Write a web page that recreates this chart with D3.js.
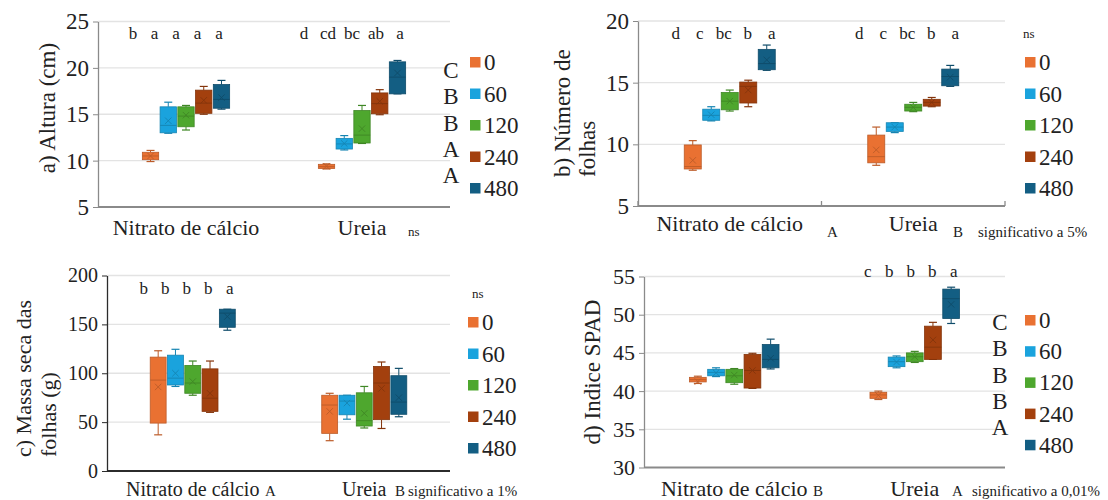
<!DOCTYPE html>
<html><head><meta charset="utf-8">
<script src="https://cdn.jsdelivr.net/npm/d3@7"></script>
<style>html,body{margin:0;padding:0;background:#fff}svg{display:block}</style>
</head><body><svg id="chart" width="1108" height="500"></svg>
<script>
// ---------- DATA ----------
const categories = ["Nitrato de cálcio", "Ureia"];
const doses = ["0", "60", "120", "240", "480"];
const doseColors = ["#E97132", "#1AA3DD", "#4EA72E", "#A3400E", "#135E83"];
// each entry: [min, q1, median, q3, max, mean]
const alturaNitrato = [[9.9,10.1,10.5,10.9,11.1,10.5],[12.95,13.0,13.8,15.8,16.3,14.3],[13.3,13.65,14.8,15.8,15.95,14.9],[15.0,15.1,16.2,17.6,18.0,16.5],[15.55,15.65,16.6,18.2,18.65,16.8]];
const alturaUreia = [[9.1,9.15,9.35,9.6,9.65,9.4],[11.15,11.25,11.8,12.4,12.7,11.85],[11.85,11.9,12.75,15.4,15.95,13.45],[14.95,15.05,16.15,17.3,17.65,16.4],[17.2,17.2,19.0,20.65,20.8,19.45]];
const folhasNitrato = [[7.9,8.0,8.2,9.95,10.3,8.7],[11.9,11.95,12.35,12.85,13.05,12.4],[12.7,12.8,13.5,14.2,14.4,13.5],[13.05,13.35,14.7,15.05,15.2,14.4],[16.0,16.05,16.55,17.7,18.05,16.85]];
const folhasUreia = [[8.3,8.5,9.0,10.75,11.4,9.55],[10.95,11.05,11.4,11.75,11.75,11.4],[12.65,12.7,13.0,13.25,13.4,13.0],[13.05,13.1,13.4,13.65,13.8,13.4],[14.7,14.75,15.5,16.1,16.4,15.45]];
const massaNitrato = [[37,49,93,116.5,123,86],[86.5,88,95,118.5,124.5,100],[77.5,79.5,90,108,112.5,91.5],[60,61,74.5,104.5,112.5,79.5],[144,147,161.5,165.5,165.5,158]];
const massaUreia = [[31,38.5,67.5,77.5,79.5,61],[53,57.5,71.5,77.5,77.5,69.5],[44,46,51.5,80,86.5,59],[43.5,52.5,90,107,111.5,84.5],[55.5,58,70.5,97.5,105,75]];
const spadNitrato = [[41.0,41.2,41.5,41.8,41.95,41.25],[41.9,42.0,42.45,42.85,43.05,42.4],[40.9,41.1,42.0,42.85,42.95,42.1],[40.35,40.4,42.7,44.8,44.95,42.7],[42.9,43.05,44.15,46.1,46.8,44.3]];
const spadUreia = [[38.9,39.05,39.5,39.85,40.0,39.45],[43.05,43.2,43.85,44.45,44.6,43.8],[43.75,43.85,44.5,45.0,45.2,44.5],[44.15,44.15,45.75,48.5,49.0,46.7],[48.85,49.5,52.1,53.35,53.6,51.35]];

const lettersA = [["b","a","a","a","a"], ["d","cd","bc","ab","a"]];
const lettersB = [["d","c","bc","b","a"], ["d","c","bc","b","a"]];
const lettersC = [["b","b","b","b","a"], []];
const lettersD = [[], ["c","b","b","b","a"]];
const sideLettersA = ["C","B","B","A","A"];
const sideLettersD = ["C","B","B","B","A"];
const ticksA = [5,10,15,20,25];
const ticksB = [5,10,15,20];
const ticksC = [0,50,100,150,200];
const ticksD = [30,35,40,45,50,55];

// ---------- DRAWING ----------
const FONT = "\"Liberation Serif\"";
const svg = d3.select("#chart").style("font-family", FONT);

function darker(c, k){ return d3.color(c).darker(k).formatHex(); }
function txt(sel){ return sel.style("font-family", FONT).attr("fill", "#222"); }

function drawPanel(p){
  const g = svg.append("g");
  const y = d3.scaleLinear().domain(p.yDomain).range([p.bottom, p.top]);
  const x0 = d3.scaleBand().domain(categories).range([p.left, p.right]);
  const x1 = d3.scaleBand().domain(doses).range([0, x0.bandwidth()]).paddingInner(0.08).paddingOuter(2.5);

  g.selectAll(".grid").data(p.ticks.slice(1)).join("line")
    .attr("x1", p.left).attr("x2", p.right)
    .attr("y1", d=>y(d)).attr("y2", d=>y(d))
    .attr("stroke", "#e3e3e3").attr("stroke-width", 1.3);

  const ay = g.append("g").attr("transform", `translate(${p.left},0)`)
    .call(d3.axisLeft(y).tickValues(p.ticks).tickSize(5).tickPadding(4).tickSizeOuter(0));
  ay.attr("font-family", null).attr("font-size", null);
  ay.select(".domain").attr("stroke", p.axisColor).attr("stroke-width", 1.3);
  ay.selectAll(".tick line").attr("stroke", p.axisColor);
  txt(ay.selectAll(".tick text")).attr("font-size", p.tickFont);

  g.append("line").attr("x1", p.left).attr("x2", p.right)
    .attr("y1", y(p.yDomain[0])).attr("y2", y(p.yDomain[0]))
    .attr("stroke", p.axisColor).attr("stroke-width", 2);
  if (p.catTicks){
    const bx = [p.left, x0(categories[1]), p.right];
    g.selectAll(".ct").data(bx).join("line")
      .attr("x1", d=>d).attr("x2", d=>d)
      .attr("y1", y(p.yDomain[0])).attr("y2", y(p.yDomain[0]) - 5)
      .attr("stroke", p.axisColor).attr("stroke-width", 1.3);
  }
  txt(g.selectAll(".cat").data(categories).join("text")
    .attr("x", d=>x0(d) + x0.bandwidth()/2)
    .attr("y", p.catY)
    .attr("text-anchor", "middle"))
    .attr("font-size", p.catFont)
    .text(d=>d);

  categories.forEach((cat, ci) => {
    const stats = p.data[ci];
    const bw = x1.bandwidth();
    stats.forEach((s, di) => {
      const col = doseColors[di];
      const dk = darker(col, 0.6);
      const cx = x0(cat) + x1(doses[di]) + bw/2;
      const bg = g.append("g");
      bg.append("line").attr("x1", cx).attr("x2", cx).attr("y1", y(s[0])).attr("y2", y(s[1])).attr("stroke", dk).attr("stroke-width", 1);
      bg.append("line").attr("x1", cx).attr("x2", cx).attr("y1", y(s[3])).attr("y2", y(s[4])).attr("stroke", dk).attr("stroke-width", 1);
      [s[0], s[4]].forEach(v => {
        bg.append("line").attr("x1", cx-4).attr("x2", cx+4).attr("y1", y(v)).attr("y2", y(v)).attr("stroke", dk).attr("stroke-width", 1.2);
      });
      bg.append("rect").attr("x", cx - bw/2).attr("width", bw)
        .attr("y", y(s[3])).attr("height", Math.max(1, y(s[1]) - y(s[3])))
        .attr("fill", col).attr("stroke", dk).attr("stroke-width", 0.8);
      bg.append("line").attr("x1", cx - bw/2).attr("x2", cx + bw/2).attr("y1", y(s[2])).attr("y2", y(s[2])).attr("stroke", dk).attr("stroke-width", 0.9);
      const m = 3.2, my = y(s[5]);
      bg.append("path").attr("d", `M${cx-m},${my-m}L${cx+m},${my+m}M${cx-m},${my+m}L${cx+m},${my-m}`)
        .attr("stroke", dk).attr("stroke-width", 0.9).attr("fill", "none");
    });
    const L = p.letters[ci];
    const sp = L.some(t => t.length > 1) ? 24 : 21.5;
    const gc = x0(cat) + x0.bandwidth()/2 + p.letterOffset;
    txt(g.selectAll(null).data(L).join("text")
      .attr("x", (d,i)=> gc + (i-2)*sp)
      .attr("y", p.letterY)
      .attr("text-anchor", "middle"))
      .attr("font-size", 17)
      .text(d=>d);
  });

  const yl = txt(g.append("text")
    .attr("transform", `translate(${p.ylabX},${p.ylabY}) rotate(-90)`)
    .attr("text-anchor", p.ylabAnchor))
    .attr("font-size", p.ylabFont);
  p.ylab.forEach((t, i) => {
    yl.append("tspan").attr("x", 0).attr("dy", i === 0 ? 0 : p.ylabLine).text(t);
  });

  const lg = g.append("g");
  doses.forEach((d, i) => {
    const by = p.legY + i * p.legStep;
    lg.append("rect").attr("x", p.legX).attr("y", by - 13).attr("width", 10.5).attr("height", 10.5).attr("fill", doseColors[i]);
    txt(lg.append("text").attr("x", p.legX + 14).attr("y", by)).attr("font-size", 23).text(d);
  });
  if (p.side){
    p.side.forEach((t, i) => {
      txt(lg.append("text").attr("x", p.sideX).attr("y", p.sideY + i*p.sideStep)
        .attr("text-anchor", "middle")).attr("font-size", 23).text(t);
    });
  }
  (p.notes || []).forEach(n => {
    txt(g.append("text").attr("x", n[0]).attr("y", n[1])).attr("font-size", n[3] || 15).text(n[2]);
  });
}

drawPanel({
  data: [alturaNitrato, alturaUreia], yDomain: [5,25], ticks: ticksA,
  left: 98, right: 450, top: 21.5, bottom: 207, axisColor: "#8a8a8a", tickFont: 23,
  catY: 235, catFont: 22, letters: lettersA, letterY: 39, letterOffset: -10,
  ylab: ["a) Altura  (cm)"], ylabX: 55, ylabY: 108, ylabAnchor: "middle", ylabFont: 23, ylabLine: 0,
  legX: 470, legY: 70, legStep: 31.5, side: sideLettersA, sideX: 451, sideY: 78, sideStep: 26.3,
  notes: [[408, 236, "ns", 13]]
});
drawPanel({
  data: [folhasNitrato, folhasUreia], yDomain: [5,20], ticks: ticksB,
  left: 638, right: 1005, top: 21, bottom: 206, axisColor: "#8a8a8a", tickFont: 23, catTicks: true,
  catY: 231, catFont: 22, letters: lettersB, letterY: 39, letterOffset: -6,
  ylab: ["b) Número de", "folhas"], ylabX: 570, ylabY: 177, ylabAnchor: "start", ylabFont: 23, ylabLine: 25,
  legX: 1025, legY: 70, legStep: 31.5,
  notes: [[1023, 38, "ns", 13], [827, 237, "A"], [953, 237, "B"], [978, 237, "significativo  a 5%"]]
});
drawPanel({
  data: [massaNitrato, massaUreia], yDomain: [0,200], ticks: ticksC,
  left: 107, right: 450, top: 275.5, bottom: 471, axisColor: "#2b2b2b", tickFont: 20,
  catY: 496, catFont: 20, letters: lettersC, letterY: 294, letterOffset: -6,
  ylab: ["c) Massa seca das", "folhas (g)"], ylabX: 31, ylabY: 457, ylabAnchor: "start", ylabFont: 22, ylabLine: 25,
  legX: 468, legY: 330, legStep: 31.5,
  notes: [[472, 298, "ns", 13], [265, 496, "A"], [395, 496, "B"], [408, 496, "significativo  a 1%"]]
});
drawPanel({
  data: [spadNitrato, spadUreia], yDomain: [30,55], ticks: ticksD,
  left: 644, right: 1005, top: 276.5, bottom: 467.5, axisColor: "#8a8a8a", tickFont: 22,
  catY: 496, catFont: 22, letters: lettersD, letterY: 277, letterOffset: -4,
  ylab: ["d) Indice SPAD"], ylabX: 600, ylabY: 372, ylabAnchor: "middle", ylabFont: 23, ylabLine: 0,
  legX: 1025, legY: 328, legStep: 31.2, side: sideLettersD, sideX: 1000, sideY: 330, sideStep: 26.3,
  notes: [[813, 496, "B"], [952, 496, "A"], [972, 496, "significativo  a 0,01%"]]
});
</script></body></html>
